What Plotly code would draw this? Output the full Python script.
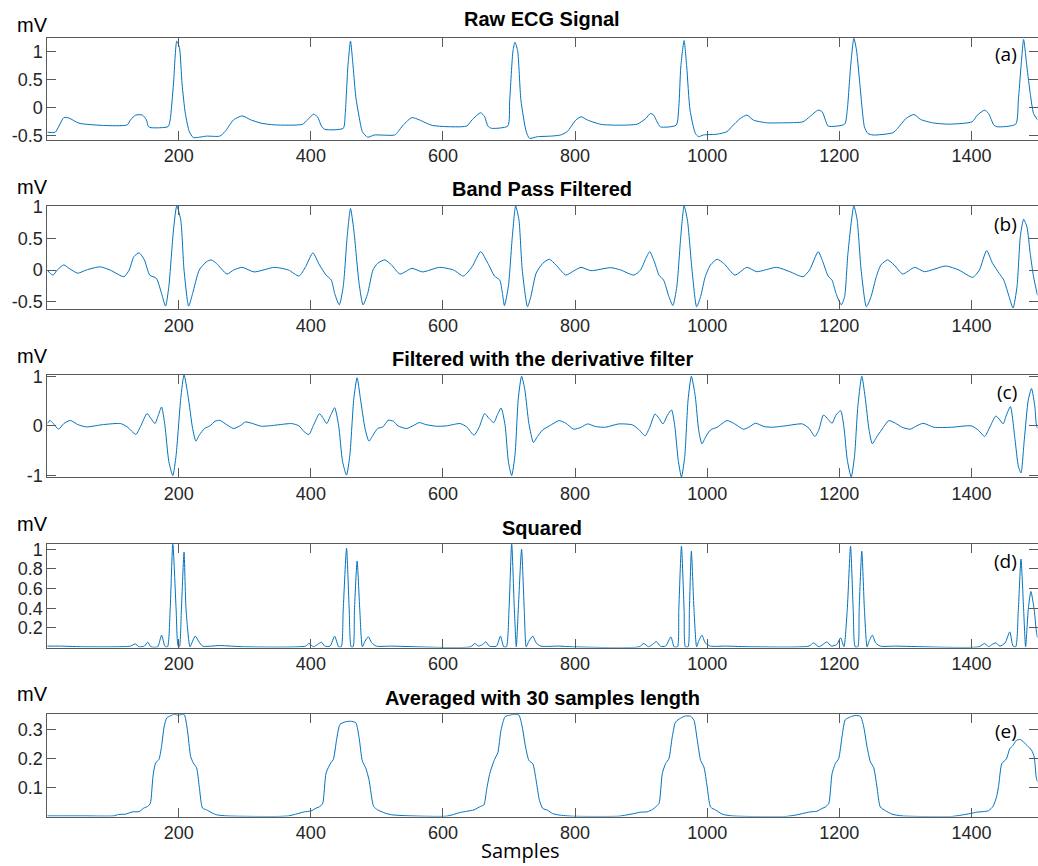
import plotly.graph_objects as go

# ---------------------------------------------------------------------------
# Pan-Tompkins processing stages of a 1500-sample ECG record.
# Each list holds (sample index, amplitude in mV) vertices of the trace.
# ---------------------------------------------------------------------------
raw_ecg = [
    (1, -0.44), (13, -0.44), (26, -0.18), (34, -0.19), (49, -0.28), (86, -0.32), (122, -0.31),
    (127, -0.22), (135, -0.135), (145, -0.135), (151, -0.22), (154, -0.34), (158, -0.36),
    (184, -0.34), (187, -0.22), (192, 0.42), (197, 1.18), (201, 1.07), (205, 0.42), (210, -0.11),
    (216, -0.43), (222, -0.535), (242, -0.51), (262, -0.51), (270, -0.43), (283, -0.22),
    (296, -0.15), (309, -0.22), (325, -0.28), (345, -0.31), (387, -0.30), (395, -0.22),
    (404, -0.12), (410, -0.165), (416, -0.33), (421, -0.39), (449, -0.37), (452, -0.11),
    (456, 0.72), (460, 1.18), (464, 0.72), (468, 0.19), (473, -0.165), (478, -0.43), (486, -0.53),
    (496, -0.49), (527, -0.49), (532, -0.43), (540, -0.31), (553, -0.18), (564, -0.22),
    (584, -0.32), (636, -0.33), (644, -0.22), (657, -0.094), (663, -0.165), (668, -0.33),
    (673, -0.37), (698, -0.33), (701, 0.13), (706, 1.01), (709, 1.16), (713, 1.01), (718, 0.13),
    (726, -0.43), (731, -0.55), (743, -0.52), (763, -0.51), (778, -0.49), (788, -0.43),
    (801, -0.225), (809, -0.166), (819, -0.225), (839, -0.30), (864, -0.315), (894, -0.297),
    (907, -0.196), (914, -0.107), (919, -0.136), (924, -0.255), (929, -0.344), (953, -0.315),
    (957, 0.012), (960, 0.72), (965, 1.19), (969, 0.72), (974, -0.047), (982, -0.46), (987, -0.52),
    (994, -0.49), (1015, -0.475), (1030, -0.43), (1037, -0.344), (1050, -0.196), (1060, -0.136),
    (1070, -0.225), (1090, -0.273), (1115, -0.273), (1145, -0.255), (1155, -0.166), (1168, -0.047),
    (1174, -0.077), (1179, -0.225), (1183, -0.332), (1208, -0.297), (1212, -0.047), (1217, 0.72),
    (1222, 1.23), (1226, 1.02), (1231, 0.427), (1238, -0.344), (1243, -0.46), (1251, -0.49),
    (1281, -0.45), (1288, -0.374), (1301, -0.196), (1313, -0.125), (1323, -0.213), (1341, -0.273),
    (1366, -0.297), (1401, -0.255), (1409, -0.136), (1420, -0.047), (1426, -0.107), (1434, -0.315),
    (1439, -0.344), (1467, -0.297), (1471, 0.13), (1475, 0.72), (1479, 1.21), (1484, 0.72),
    (1489, 0.25), (1494, -0.107), (1500, -0.22),
]

band_pass = [
    (1, 0.0), (5, -0.05), (10, -0.08), (16, 0.0), (26, 0.08), (34, 0.026), (47, -0.05), (60, 0.0),
    (81, 0.05), (96, 0.0), (117, -0.105), (125, 0.0), (132, 0.21), (140, 0.27), (148, 0.16),
    (156, -0.08), (166, -0.13), (174, -0.37), (180, -0.57), (185, -0.26), (192, 0.63), (197, 1.01),
    (203, 0.79), (208, 0.0), (215, -0.57), (221, -0.37), (231, 0.0), (242, 0.13), (249, 0.16),
    (257, 0.105), (273, -0.063), (283, 0.0), (296, 0.042), (314, -0.03), (345, 0.042), (366, 0.0),
    (382, -0.095), (392, 0.05), (403, 0.27), (413, 0.08), (423, -0.08), (431, -0.16), (436, -0.37),
    (443, -0.55), (449, -0.26), (455, 0.53), (460, 0.97), (465, 0.63), (473, -0.21), (479, -0.55),
    (486, -0.37), (494, 0.0), (501, 0.105), (512, 0.16), (522, 0.08), (535, -0.063), (553, 0.026),
    (569, -0.03), (595, 0.042), (616, 0.0), (631, -0.095), (644, 0.05), (657, 0.29), (668, 0.105),
    (678, -0.095), (686, -0.16), (690, -0.37), (693, -0.56), (699, -0.26), (705, 0.53), (710, 1.01),
    (715, 0.79), (720, 0.0), (728, -0.58), (733, -0.42), (741, -0.05), (751, 0.105), (761, 0.17),
    (771, 0.08), (786, -0.08), (796, -0.026), (809, 0.042), (824, -0.01), (854, 0.037), (869, 0.0),
    (889, -0.08), (899, 0.0), (907, 0.18), (913, 0.29), (920, 0.13), (927, -0.08), (934, -0.16),
    (942, -0.42), (948, -0.56), (954, -0.26), (960, 0.53), (965, 1.01), (970, 0.79), (977, 0.0),
    (984, -0.58), (990, -0.42), (997, -0.105), (1005, 0.08), (1015, 0.17), (1025, 0.105),
    (1042, -0.08), (1060, 0.042), (1075, -0.026), (1105, 0.042), (1125, -0.026), (1145, -0.105),
    (1155, 0.0), (1168, 0.29), (1175, 0.13), (1183, -0.095), (1189, -0.16), (1195, -0.37),
    (1203, -0.55), (1208, -0.42), (1213, 0.26), (1222, 1.01), (1227, 0.79), (1233, 0.0),
    (1241, -0.58), (1248, -0.42), (1256, -0.105), (1263, 0.08), (1273, 0.16), (1283, 0.08),
    (1296, -0.063), (1314, 0.042), (1329, -0.026), (1361, 0.063), (1381, 0.0), (1402, -0.116),
    (1412, 0.0), (1423, 0.305), (1432, 0.105), (1442, -0.053), (1449, -0.16), (1457, -0.42),
    (1463, -0.60), (1469, -0.26), (1474, 0.53), (1479, 0.80), (1484, 0.68), (1489, 0.26),
    (1494, -0.105), (1500, -0.40),
]

derivative = [
    (1, 0.05), (5, 0.11), (10, 0.05), (18, -0.067), (26, 0.047), (36, 0.11), (47, 0.027),
    (60, -0.02), (86, 0.027), (112, 0.047), (122, -0.02), (135, -0.17), (143, 0.013), (152, 0.25),
    (158, 0.147), (164, 0.047), (169, 0.213), (174, 0.38), (179, 0.013), (185, -0.72), (191, -1.0),
    (196, -0.59), (203, 0.55), (208, 1.03), (214, 0.61), (221, -0.053), (226, -0.307),
    (231, -0.187), (239, -0.053), (247, 0.0), (255, 0.093), (262, 0.113), (270, 0.047),
    (283, -0.053), (294, 0.013), (301, 0.08), (312, 0.047), (325, -0.007), (345, 0.013),
    (371, 0.047), (382, 0.0), (390, -0.12), (397, -0.173), (404, 0.013), (413, 0.247), (419, 0.147),
    (424, 0.047), (430, 0.213), (436, 0.367), (442, 0.013), (448, -0.72), (454, -0.99), (459, -0.59),
    (465, 0.55), (470, 0.97), (475, 0.55), (482, -0.053), (488, -0.307), (494, -0.187), (501, -0.053),
    (509, -0.02), (517, 0.113), (525, 0.093), (532, 0.0), (545, -0.053), (556, 0.013), (564, 0.067),
    (574, 0.027), (590, -0.007), (605, 0.0), (626, 0.047), (636, -0.02), (647, -0.187), (655, -0.02),
    (663, 0.247), (670, 0.147), (677, 0.067), (682, 0.213), (688, 0.36), (694, 0.013), (699, -0.72),
    (704, -1.0), (709, -0.59), (714, 0.55), (719, 1.0), (724, 0.72), (730, 0.053), (737, -0.333),
    (743, -0.213), (751, -0.08), (761, 0.0), (776, 0.107), (786, 0.053), (798, -0.067),
    (809, -0.027), (819, 0.04), (831, -0.013), (846, -0.027), (866, 0.04), (887, 0.02), (897, -0.08),
    (906, -0.2), (913, -0.027), (921, 0.24), (927, 0.153), (933, 0.04), (940, 0.22), (946, 0.32),
    (951, -0.013), (956, -0.68), (961, -1.03), (966, -0.613), (971, 0.52), (976, 1.0), (982, 0.587),
    (987, -0.08), (992, -0.36), (998, -0.213), (1005, -0.08), (1015, -0.027), (1030, 0.107),
    (1040, 0.053), (1055, -0.067), (1063, -0.027), (1073, 0.053), (1086, -0.013), (1098, -0.027),
    (1118, 0.0), (1144, 0.04), (1154, -0.047), (1163, -0.213), (1169, -0.08), (1176, 0.22),
    (1183, 0.133), (1189, 0.053), (1195, 0.22), (1202, 0.307), (1207, -0.027), (1212, -0.68),
    (1218, -1.03), (1223, -0.613), (1228, 0.387), (1234, 1.0), (1239, 0.587), (1245, -0.08),
    (1250, -0.36), (1257, -0.213), (1264, -0.08), (1275, 0.107), (1285, 0.053), (1295, -0.027),
    (1307, -0.067), (1317, 0.0), (1327, 0.053), (1343, -0.027), (1370, -0.027), (1400, 0.0),
    (1411, -0.093), (1420, -0.213), (1427, -0.047), (1437, 0.2), (1443, 0.12), (1448, 0.04),
    (1453, 0.22), (1459, 0.387), (1466, -0.28), (1471, -0.813), (1475, -0.947), (1480, -0.28),
    (1486, 0.52), (1491, 0.753), (1496, 0.387), (1498, 0.053), (1500, -0.05),
]

squared = [
    (1, 0.014), (21, 0.014), (60, 0.007), (127, 0.014), (134, 0.037), (140, 0.007), (148, 0.014),
    (153, 0.054), (158, 0.007), (168, 0.007), (174, 0.126), (179, 0.014), (183, 0.007), (187, 0.39),
    (191, 1.06), (196, 0.39), (199, 0.014), (201, 0.007), (204, 0.39), (208, 0.97), (211, 0.39),
    (217, 0.007), (221, 0.065), (225, 0.116), (230, 0.065), (236, 0.014), (262, 0.02), (300, 0.007),
    (392, 0.014), (397, 0.041), (404, 0.007), (410, 0.031), (416, 0.054), (421, 0.014), (429, 0.014),
    (436, 0.116), (442, 0.007), (446, 0.007), (449, 0.39), (454, 1.01), (458, 0.39), (461, 0.007),
    (464, 0.007), (466, 0.39), (470, 0.88), (474, 0.39), (478, 0.007), (482, 0.065), (487, 0.109),
    (492, 0.048), (499, 0.014), (522, 0.014), (642, 0.007), (648, 0.041), (654, 0.014), (660, 0.031),
    (665, 0.058), (670, 0.014), (681, 0.014), (687, 0.116), (692, 0.007), (696, 0.007), (700, 0.39),
    (704, 1.06), (708, 0.39), (711, 0.007), (714, 0.39), (719, 1.0), (723, 0.385), (726, 0.007),
    (730, 0.064), (736, 0.115), (741, 0.047), (748, 0.014), (776, 0.014), (796, 0.007), (897, 0.007),
    (904, 0.041), (911, 0.007), (917, 0.03), (923, 0.06), (929, 0.014), (937, 0.014), (945, 0.108),
    (950, 0.007), (955, 0.007), (957, 0.385), (961, 1.03), (965, 0.385), (967, 0.007), (971, 0.007),
    (973, 0.385), (976, 0.98), (980, 0.385), (984, 0.007), (987, 0.064), (992, 0.125), (997, 0.047),
    (1005, 0.014), (1028, 0.014), (1068, 0.007), (1154, 0.014), (1161, 0.047), (1169, 0.007),
    (1175, 0.03), (1181, 0.057), (1188, 0.014), (1196, 0.03), (1202, 0.098), (1207, 0.007),
    (1212, 0.385), (1217, 1.03), (1221, 0.385), (1224, 0.007), (1228, 0.007), (1230, 0.385),
    (1234, 0.98), (1238, 0.385), (1242, 0.007), (1245, 0.064), (1250, 0.125), (1255, 0.047),
    (1262, 0.014), (1285, 0.014), (1411, 0.007), (1420, 0.041), (1426, 0.007), (1431, 0.03),
    (1437, 0.047), (1443, 0.014), (1451, 0.047), (1458, 0.159), (1463, 0.014), (1467, 0.007),
    (1471, 0.385), (1475, 0.90), (1479, 0.385), (1482, 0.007), (1486, 0.385), (1490, 0.57),
    (1495, 0.385), (1498, 0.18), (1500, 0.10),
]

averaged = [
    (1, 0.002), (60, 0.002), (101, 0.002), (109, 0.007), (119, 0.008), (130, 0.016), (140, 0.017),
    (147, 0.029), (153, 0.035), (157, 0.046), (161, 0.139), (165, 0.185), (170, 0.197), (174, 0.243),
    (178, 0.312), (182, 0.341), (187, 0.347), (192, 0.353), (200, 0.35), (208, 0.353), (213, 0.30),
    (218, 0.208), (222, 0.185), (227, 0.168), (231, 0.104), (236, 0.029), (242, 0.023), (249, 0.014),
    (257, 0.006), (273, 0.002), (345, 0.0), (366, 0.002), (377, 0.008), (390, 0.016), (400, 0.019),
    (408, 0.029), (414, 0.035), (418, 0.046), (423, 0.15), (430, 0.185), (434, 0.197), (439, 0.266),
    (444, 0.318), (452, 0.327), (460, 0.329), (468, 0.324), (473, 0.272), (478, 0.191), (483, 0.168),
    (488, 0.127), (495, 0.035), (501, 0.023), (512, 0.012), (522, 0.006), (553, 0.002), (605, 0.001),
    (616, 0.007), (626, 0.014), (636, 0.018), (647, 0.023), (657, 0.035), (662, 0.04), (666, 0.092),
    (671, 0.15), (678, 0.197), (683, 0.22), (688, 0.30), (694, 0.345), (701, 0.35), (709, 0.353),
    (715, 0.35), (720, 0.309), (725, 0.24), (730, 0.194), (736, 0.182), (741, 0.125), (746, 0.056),
    (751, 0.028), (758, 0.022), (766, 0.01), (776, 0.005), (796, 0.001), (866, 0.001), (877, 0.005),
    (889, 0.01), (899, 0.015), (909, 0.016), (917, 0.024), (922, 0.033), (927, 0.045), (932, 0.148),
    (937, 0.183), (942, 0.2), (947, 0.274), (952, 0.326), (960, 0.34), (967, 0.347), (975, 0.346),
    (980, 0.332), (985, 0.263), (990, 0.194), (995, 0.171), (1000, 0.102), (1005, 0.033),
    (1013, 0.022), (1023, 0.008), (1038, 0.002), (1118, 0.0), (1134, 0.005), (1144, 0.01),
    (1156, 0.016), (1166, 0.018), (1174, 0.028), (1179, 0.033), (1184, 0.045), (1189, 0.148),
    (1194, 0.183), (1199, 0.2), (1204, 0.274), (1209, 0.334), (1217, 0.344), (1224, 0.349),
    (1232, 0.346), (1237, 0.309), (1242, 0.24), (1247, 0.189), (1252, 0.169), (1257, 0.102),
    (1262, 0.033), (1270, 0.02), (1280, 0.008), (1295, 0.002), (1370, 0.0), (1385, 0.005),
    (1398, 0.01), (1408, 0.015), (1418, 0.017), (1426, 0.02), (1433, 0.036), (1438, 0.068),
    (1441, 0.103), (1446, 0.183), (1453, 0.199), (1458, 0.234), (1463, 0.246), (1468, 0.263),
    (1474, 0.266), (1479, 0.257), (1484, 0.246), (1491, 0.229), (1495, 0.206), (1498, 0.137),
    (1500, 0.12),
]

panel_titles = ["Raw ECG Signal", "Band Pass Filtered", "Filtered with the derivative filter",
                "Squared", "Averaged with 30 samples length"]
panel_tags = ["(a)", "(b)", "(c)", "(d)", "(e)"]
x_tick_vals = [200, 400, 600, 800, 1000, 1200, 1400]
x_tick_text = ["200", "400", "600", "800", "1000", "1200", "1400"]
y_tick_vals = [[-0.5, 0, 0.5, 1], [-0.5, 0, 0.5, 1], [-1, 0, 1],
               [0.2, 0.4, 0.6, 0.8, 1], [0.1, 0.2, 0.3]]
y_tick_text = [["-0.5", "0", "0.5", "1"], ["-0.5", "0", "0.5", "1"], ["-1", "0", "1"],
               ["0.2", "0.4", "0.6", "0.8", "1"], ["0.1", "0.2", "0.3"]]
y_ranges = [[-0.57, 1.245], [-0.62, 1.01], [-1.035, 1.025], [0, 1.05], [0, 0.353]]
x_range = [1, 1500]

series = [raw_ecg, band_pass, derivative, squared, averaged]

# ---------------------------------------------------------------------------
# Layout geometry (pixels of the 1038 x 866 canvas)
# ---------------------------------------------------------------------------
W, H = 1038, 866
left_px, right_px = 47.3, 1037.5
panel_px = [(37.5, 139.5), (206.0, 309.3), (375.0, 477.3), (544.3, 647.5), (714.3, 816.5)]
title_y_px = [19, 189.5, 359, 527.5, 697.5]
unit_y_px = [25, 187, 356, 524, 694]
tag_y_px = [54, 224, 392, 561, 731]

AXIS_COLOR = "#5a5a5a"
TEXT_COLOR = "#262626"
LINE_COLOR = "#0072BD"
TICK_FONT = dict(family="Liberation Sans, Arial, sans-serif", size=18, color=TEXT_COLOR)


def px_x(p):
    return p / W


def px_y(p):
    return 1 - p / H


fig = go.Figure()
layout = dict(
    template="none",
    width=W, height=H, autosize=False,
    margin=dict(l=0, r=0, t=0, b=0, pad=0, autoexpand=False),
    paper_bgcolor="white", plot_bgcolor="white",
    showlegend=False,
    annotations=[],
)

for i, pts in enumerate(series):
    n = i + 1
    xs = [p[0] for p in pts]
    ys = [p[1] for p in pts]
    fig.add_trace(go.Scatter(
        x=xs, y=ys, mode="lines",
        line=dict(color=LINE_COLOR, width=1, shape="spline", smoothing=0.6),
        xaxis=f"x{n}", yaxis=f"y{n}", hoverinfo="skip",
    ))
    top, bot = panel_px[i]
    xa = dict(
        domain=[px_x(left_px), px_x(right_px)], anchor=f"y{n}", automargin=False,
        range=x_range, tickmode="array", tickvals=x_tick_vals, ticktext=x_tick_text,
        ticks="inside", ticklen=9, tickwidth=1, tickcolor=AXIS_COLOR,
        showline=True, linecolor=AXIS_COLOR, linewidth=1, mirror="ticks",
        showgrid=False, zeroline=False, tickfont=TICK_FONT,
    )
    ya = dict(
        domain=[px_y(bot), px_y(top)], anchor=f"x{n}", automargin=False,
        range=y_ranges[i], tickmode="array", tickvals=y_tick_vals[i], ticktext=y_tick_text[i],
        ticks="inside", ticklen=9, tickwidth=1, tickcolor=AXIS_COLOR,
        showline=True, linecolor=AXIS_COLOR, linewidth=1, mirror="ticks",
        showgrid=False, zeroline=False, tickfont=TICK_FONT,
    )
    layout["xaxis" if n == 1 else f"xaxis{n}"] = xa
    layout["yaxis" if n == 1 else f"yaxis{n}"] = ya

    # panel title
    layout["annotations"].append(dict(
        text=f"<b>{panel_titles[i]}</b>", xref="paper", yref="paper",
        x=px_x((left_px + right_px) / 2), y=px_y(title_y_px[i]),
        xanchor="center", yanchor="middle", showarrow=False,
        font=dict(family="Liberation Sans, Arial, sans-serif", size=20, color="black"),
    ))
    # unit label above the y axis
    layout["annotations"].append(dict(
        text="mV", xref="paper", yref="paper",
        x=px_x(32), y=px_y(unit_y_px[i]),
        xanchor="center", yanchor="middle", showarrow=False,
        font=dict(family="Liberation Sans, Arial, sans-serif", size=20, color="black"),
    ))
    # panel tag
    layout["annotations"].append(dict(
        text=panel_tags[i], xref="paper", yref="paper",
        x=px_x(1019), y=px_y(tag_y_px[i]),
        xanchor="right", yanchor="middle", showarrow=False,
        font=dict(family="Open Sans, Noto Sans, sans-serif", size=19, color="black"),
    ))

# shared x-axis label under the bottom panel
layout["annotations"].append(dict(
    text="Samples", xref="paper", yref="paper",
    x=px_x(520), y=0, xanchor="center", yanchor="bottom", showarrow=False,
    font=dict(family="Open Sans, Noto Sans, sans-serif", size=20, color="black"),
))

fig.update_layout(**layout)
fig.write_html("out.html")
